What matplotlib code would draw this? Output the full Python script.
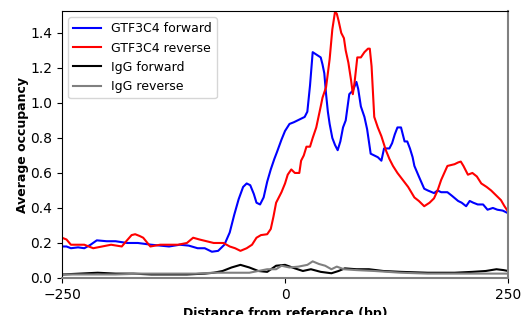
import numpy as np
import matplotlib
matplotlib.use("Agg")
import matplotlib.pyplot as plt

# GTF3C4 forward (blue)
fwd_x = [-250, -245, -240, -232, -225, -218, -211, -200, -190, -177, -165, -150,
         -140, -130, -118, -108, -98, -90, -82, -75, -68, -62, -57, -52, -47, -43,
         -39, -35, -32, -28, -24, -20, -16, -12, -9, -4, 0, 5, 10, 14, 18, 22, 25,
         28, 31, 34, 37, 40, 42, 44, 46, 48, 50, 53, 56, 59, 62, 65, 68, 72, 76,
         80, 82, 85, 89, 92, 96, 100, 104, 108, 111, 114, 117, 120, 123, 126, 130,
         132, 134, 137, 140, 143, 145, 150, 156, 160, 167, 171, 175, 182, 187, 194,
         198, 203, 207, 211, 216, 222, 227, 233, 238, 244, 250]
fwd_y = [0.18, 0.18, 0.17, 0.175, 0.17, 0.19, 0.215, 0.21, 0.21, 0.20, 0.20, 0.19,
         0.185, 0.18, 0.19, 0.185, 0.17, 0.17, 0.15, 0.155, 0.19, 0.26, 0.36, 0.45,
         0.52, 0.54, 0.53, 0.48, 0.43, 0.42, 0.46, 0.55, 0.62, 0.68, 0.72, 0.79,
         0.84, 0.88, 0.89, 0.90, 0.91, 0.92, 0.95, 1.10, 1.29, 1.28, 1.27, 1.26,
         1.22, 1.17, 1.05, 0.95, 0.88, 0.80, 0.76, 0.73, 0.78, 0.86, 0.90, 1.05,
         1.07, 1.12, 1.08, 0.98, 0.92, 0.85, 0.71, 0.70, 0.69, 0.67, 0.74, 0.74,
         0.74, 0.77, 0.82, 0.86, 0.86, 0.82, 0.78, 0.78, 0.74, 0.69, 0.64, 0.58,
         0.51, 0.50, 0.485, 0.50, 0.49, 0.49, 0.47, 0.44, 0.43, 0.41, 0.44, 0.43,
         0.42, 0.42, 0.39, 0.40, 0.39, 0.385, 0.37]

# GTF3C4 reverse (red)
rev_x = [-250, -245, -240, -232, -225, -215, -205, -195, -183, -178, -172, -168,
         -163, -159, -151, -140, -130, -120, -110, -103, -96, -88, -80, -69, -62,
         -56, -50, -43, -37, -32, -27, -20, -16, -13, -10, -4, 0, 3, 7, 11, 16, 18,
         21, 24, 28, 31, 35, 40, 42, 46, 50, 53, 56, 58, 60, 63, 66, 68, 71, 74,
         76, 78, 81, 85, 89, 93, 95, 97, 100, 104, 108, 113, 117, 121, 126, 132,
         138, 145, 150, 156, 162, 167, 171, 175, 182, 186, 190, 194, 197, 200, 205,
         210, 215, 220, 226, 231, 237, 242, 246, 250]
rev_y = [0.23, 0.22, 0.19, 0.19, 0.19, 0.17, 0.18, 0.19, 0.18, 0.21, 0.245,
         0.25, 0.24, 0.23, 0.18, 0.19, 0.19, 0.19, 0.20, 0.23, 0.22, 0.21, 0.20,
         0.20, 0.18, 0.17, 0.155, 0.17, 0.19, 0.23, 0.245, 0.25, 0.28, 0.35, 0.43,
         0.49, 0.54, 0.59, 0.62, 0.60, 0.60, 0.67, 0.70, 0.75, 0.75, 0.80, 0.86,
         0.98, 1.03, 1.09, 1.25, 1.42, 1.52, 1.51, 1.47, 1.40, 1.37, 1.30, 1.23,
         1.13, 1.05, 1.12, 1.26, 1.26, 1.29, 1.31, 1.31, 1.21, 0.92, 0.86, 0.81,
         0.73, 0.68, 0.64, 0.60, 0.56, 0.52, 0.46, 0.44, 0.41, 0.43, 0.455, 0.50,
         0.56, 0.64, 0.645, 0.65, 0.66, 0.665, 0.64, 0.59, 0.60, 0.58, 0.54, 0.52,
         0.50, 0.47, 0.445, 0.41, 0.38]

# IgG forward (black)
igf_x = [-250, -230, -210, -190, -170, -150, -130, -110, -90, -80, -70, -60, -50,
         -40, -30, -20, -10, 0, 11, 20, 29, 40, 52, 60, 67, 80, 94, 110, 130, 160,
         190, 210, 225, 237, 245, 250]
igf_y = [0.02, 0.025, 0.03, 0.025, 0.025, 0.02, 0.02, 0.02, 0.025, 0.03, 0.04,
         0.06, 0.075, 0.06, 0.04, 0.035, 0.07, 0.075, 0.055, 0.04, 0.05, 0.035,
         0.027, 0.04, 0.055, 0.05, 0.05, 0.04, 0.035, 0.03, 0.03, 0.035, 0.04,
         0.05, 0.045, 0.04]

# IgG reverse (gray)
igr_x = [-250, -220, -190, -160, -130, -100, -80, -60, -40, -20, -10, -4, 5, 15,
         25, 31, 38, 45, 52, 58, 66, 80, 100, 130, 160, 200, 230, 250]
igr_y = [0.02, 0.02, 0.02, 0.025, 0.025, 0.025, 0.03, 0.03, 0.03, 0.05, 0.05,
         0.07, 0.06, 0.065, 0.075, 0.095, 0.08, 0.07, 0.05, 0.065, 0.05, 0.045,
         0.04, 0.03, 0.025, 0.025, 0.025, 0.025]

fig = plt.figure(figsize=(5.22, 3.15), dpi=100)
ax = fig.add_axes([0.1188, 0.1175, 0.8545, 0.8475])

ax.plot(fwd_x, fwd_y, color='blue', lw=1.5, label='GTF3C4 forward')
ax.plot(rev_x, rev_y, color='red', lw=1.5, label='GTF3C4 reverse')
ax.plot(igf_x, igf_y, color='black', lw=1.5, label='IgG forward')
ax.plot(igr_x, igr_y, color='gray', lw=1.5, label='IgG reverse')

ax.set_xlim(-250, 250)
ax.set_ylim(0, 1.525)
ax.set_xticks([-250, 0, 250])
ax.set_yticks(np.arange(0, 1.41, 0.2))
ax.set_yticklabels(['0.0', '0.2', '0.4', '0.6', '0.8', '1.0', '1.2', '1.4'])
ax.tick_params(labelsize=10)
ax.spines['bottom'].set_color('gray')
ax.spines['right'].set_color('gray')
ax.spines['bottom'].set_linewidth(1.5)
ax.spines['right'].set_linewidth(1.5)

ax.set_xlabel('Distance from reference (bp)', fontweight='bold', fontsize=9)
ax.set_ylabel('Average occupancy', fontweight='bold', fontsize=9, labelpad=1)
ax.legend(loc='upper left', fontsize=9, handlelength=2.2)

fig.savefig('out.png', dpi=100)
